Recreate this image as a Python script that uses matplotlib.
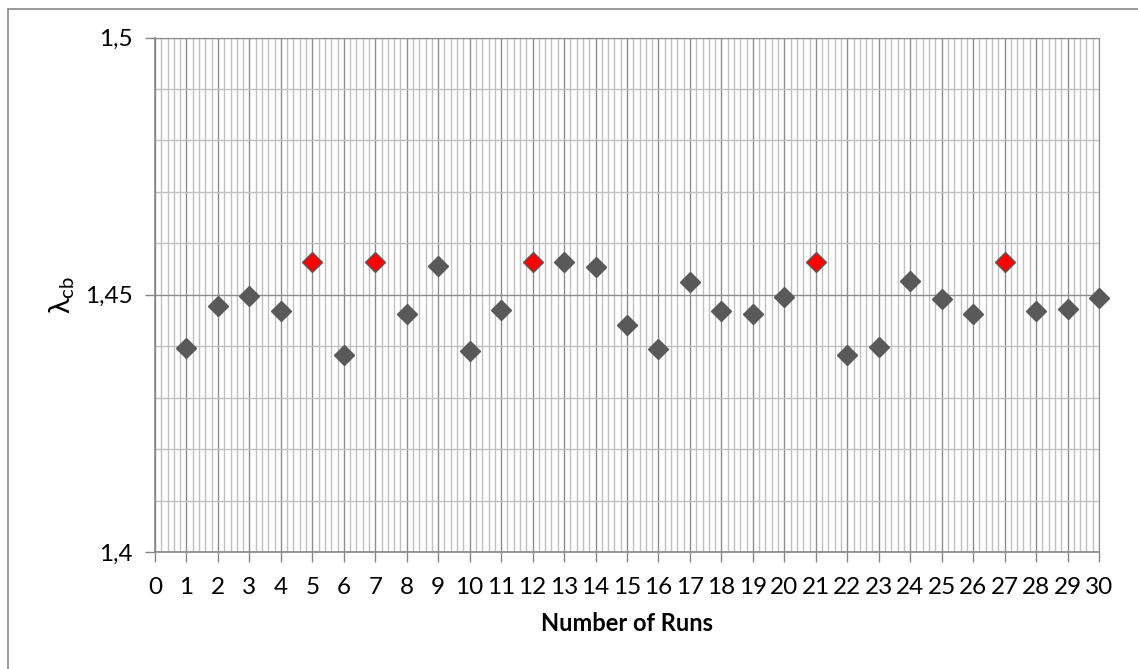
import matplotlib.pyplot as plt
import numpy as np
from matplotlib.patches import Rectangle
from matplotlib.ticker import MultipleLocator, FixedLocator

plt.rcParams['font.family'] = ['Lato', 'DejaVu Sans']
plt.rcParams['mathtext.fontset'] = 'custom'
plt.rcParams['mathtext.rm'] = 'Lato'

# run number and measured lambda_cb
runs = np.arange(1, 31)
lambda_cb = [1.4396, 1.4478, 1.4498, 1.4468, 1.4563, 1.4382, 1.4563, 1.4463,
             1.4555, 1.4391, 1.4470, 1.4563, 1.4563, 1.4553, 1.4442, 1.4394,
             1.4524, 1.4468, 1.4462, 1.4496, 1.4563, 1.4382, 1.4399, 1.4527,
             1.4491, 1.4462, 1.4563, 1.4469, 1.4473, 1.4494]
red_runs = [5, 7, 12, 21, 27]

y_ticks = [1.4, 1.45, 1.5]
y_tick_labels = ['1,4', '1,45', '1,5']

fig = plt.figure(figsize=(11.38, 6.69), dpi=100)
ax = fig.add_axes([155 / 1138, 1 - 552 / 669, (1099 - 155) / 1138, (552 - 37.5) / 669])

vals = np.array(lambda_cb)
is_red = np.isin(runs, red_runs)
ax.plot(runs[~is_red], vals[~is_red], 'D', ms=10.5, color='#595959',
        mec='#595959', mew=1, zorder=3, clip_on=False)
ax.plot(runs[is_red], vals[is_red], 'D', ms=10.5, color='#ff0000',
        mec='#5a5a5a', mew=1, zorder=3, clip_on=False)

ax.set_xlim(0, 30)
ax.set_ylim(1.4, 1.5)
ax.xaxis.set_major_locator(MultipleLocator(1))
ax.xaxis.set_minor_locator(MultipleLocator(0.2))
ax.yaxis.set_major_locator(FixedLocator(y_ticks))
ax.yaxis.set_minor_locator(MultipleLocator(0.01))
ax.set_yticklabels(y_tick_labels)

ax.grid(which='minor', color='#c0c0c0', lw=1, zorder=0)
ax.grid(which='major', color='#8c8c8c', lw=1, zorder=1)
ax.set_axisbelow(True)

for s in ['top', 'right']:
    ax.spines[s].set_color('#8c8c8c')
for s in ['left', 'bottom']:
    ax.spines[s].set_color('#868686')
    ax.spines[s].set_linewidth(1.2)

ax.tick_params(which='major', length=7, width=1, color='#868686',
               labelsize=17.5, pad=11)
ax.tick_params(which='minor', length=0)
ax.tick_params(axis='y', pad=9)

ax.set_xlabel('Number of Runs', fontsize=17, fontweight='bold', labelpad=10)
ax.set_ylabel(r'$\mathrm{\lambda_{cb}}$', fontsize=21, labelpad=6)

fig.patches.append(Rectangle((7.5 / 1138, -0.1), 1.2, 1 - 9 / 669 + 0.1,
                             transform=fig.transFigure, fill=False,
                             edgecolor='#898989', lw=1.2))

fig.savefig('out.png', dpi=100)
